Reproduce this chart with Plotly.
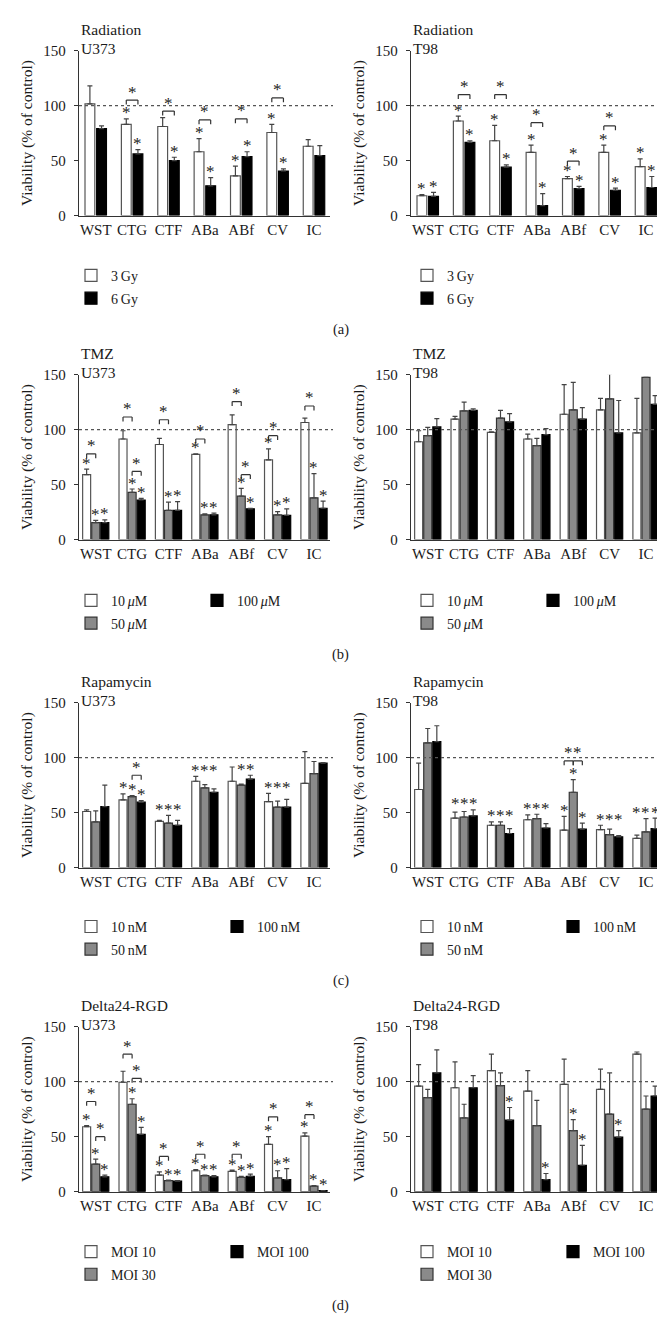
import plotly.graph_objects as go

categories = ["WST", "CTG", "CTF", "ABa", "ABf", "CV", "IC"]
y_ticks = [0, 50, 100, 150]

# ---------------- (a) Radiation ----------------
rad_names = ["3\u2009Gy", "6\u2009Gy"]
rad_u373_3gy = [101.5, 83, 81, 58, 36, 75.5, 63]
rad_u373_3gy_err = [16.5, 5, 8, 12, 9, 7.5, 6]
rad_u373_6gy = [79, 56, 50, 27, 53.5, 40.5, 54.5]
rad_u373_6gy_err = [2.5, 4, 3, 7.5, 4.5, 2, 9]
rad_u373_3gy_sig = [0, 1, 0, 1, 1, 1, 0]
rad_u373_6gy_sig = [0, 1, 1, 1, 1, 1, 0]
rad_u373_brackets = [(1, 0, 1, 105), (2, 0, 1, 95), (3, 0, 1, 87), (4, 0, 1, 88), (5, 0, 1, 107)]

rad_t98_3gy = [18, 86, 68, 57.5, 33.5, 57.5, 44.5]
rad_t98_3gy_err = [1, 4.5, 14, 6.5, 2, 6.5, 7]
rad_t98_6gy = [17.5, 66.5, 44, 9, 24.5, 23, 25.5]
rad_t98_6gy_err = [3.5, 1.5, 2, 11, 2, 2, 10]
rad_t98_3gy_sig = [1, 1, 1, 1, 1, 1, 1]
rad_t98_6gy_sig = [1, 1, 1, 1, 1, 1, 1]
rad_t98_brackets = [(1, 0, 1, 110), (2, 0, 1, 110), (3, 0, 1, 84.5), (4, 0, 1, 49.5), (5, 0, 1, 81.5)]

# ---------------- (b) TMZ ----------------
tmz_names = ["10\u2009<i>\u03bc</i>M", "50\u2009<i>\u03bc</i>M", "100\u2009<i>\u03bc</i>M"]
tmz_u373_10 = [59, 91.5, 86.5, 77.5, 104.5, 72.5, 106.5]
tmz_u373_10_err = [5, 7.5, 5.5, 0.5, 9, 10, 4]
tmz_u373_50 = [15.5, 43, 26.5, 22.5, 39.5, 22.5, 38]
tmz_u373_50_err = [2, 3, 7.5, 1, 7, 3, 22]
tmz_u373_100 = [15.5, 36, 26.5, 22.5, 28, 22, 28.5]
tmz_u373_100_err = [2.5, 1.5, 8, 1.5, 0.5, 6, 6.5]
tmz_u373_10_sig = [1, 0, 0, 1, 0, 1, 0]
tmz_u373_50_sig = [1, 1, 1, 1, 1, 1, 1]
tmz_u373_100_sig = [1, 1, 1, 1, 1, 1, 1]
tmz_u373_brackets = [(0, 0, 1, 78), (1, 0, 1, 111.5), (1, 1, 2, 62), (2, 0, 1, 109), (3, 0, 1, 91.5),
                     (4, 0, 1, 125.5), (4, 1, 2, 59), (5, 0, 1, 94.5), (6, 0, 1, 121.5)]

tmz_t98_10 = [89, 109.5, 97.5, 91.5, 114, 118, 97]
tmz_t98_10_err = [10, 2.5, 0.5, 4.5, 27, 10.5, 31.5]
tmz_t98_50 = [94.5, 117, 110.5, 85.5, 118, 128, 147.5]
tmz_t98_50_err = [7.5, 8, 7, 6.5, 25, 23, 0]
tmz_t98_100 = [102.5, 117.5, 107, 95.5, 109.5, 97, 123]
tmz_t98_100_err = [7.5, 1.5, 7.5, 5.5, 10.5, 29.5, 8]
no_sig = [0, 0, 0, 0, 0, 0, 0]

# ---------------- (c) Rapamycin ----------------
rapa_names = ["10\u2009nM", "50\u2009nM", "100\u2009nM"]
rapa_u373_10 = [51, 61.5, 42, 78.5, 78.5, 60, 76.5]
rapa_u373_10_err = [1.5, 5.5, 1, 4.5, 13, 7.5, 29]
rapa_u373_50 = [41.5, 64.5, 40.5, 72.5, 75, 55, 85.5]
rapa_u373_50_err = [10, 1, 7, 3, 1, 5.5, 11]
rapa_u373_100 = [55.5, 59.5, 38.5, 68.5, 80.5, 55, 95]
rapa_u373_100_err = [19.5, 1.5, 4.5, 3, 3.5, 7, 0.5]
rapa_u373_10_sig = [0, 1, 1, 1, 0, 1, 0]
rapa_u373_50_sig = [0, 1, 1, 1, 1, 1, 0]
rapa_u373_100_sig = [0, 1, 1, 1, 1, 1, 0]
rapa_u373_brackets = [(1, 1, 2, 84)]

rapa_t98_10 = [71, 45, 38.5, 43.5, 34, 34.5, 26.5]
rapa_t98_10_err = [24, 5.5, 3, 4.5, 12.5, 4, 3]
rapa_t98_50 = [113.5, 46, 38.5, 44.5, 68.5, 30, 32.5]
rapa_t98_50_err = [13, 5, 3, 4, 11.5, 5, 12]
rapa_t98_100 = [114.5, 47, 31, 36, 35, 28, 35.5]
rapa_t98_100_err = [14.5, 5.5, 4.5, 4, 5.5, 1, 9.5]
rapa_t98_sig = [0, 1, 1, 1, 1, 1, 1]
rapa_t98_brackets = [(4, 0, 1, 97), (4, 1, 2, 97)]

# ---------------- (d) Delta24-RGD ----------------
delta_names = ["MOI 10", "MOI 30", "MOI 100"]
delta_u373_10 = [59, 99.5, 15, 19, 18.5, 43, 50.5]
delta_u373_10_err = [1, 10, 3, 1, 1, 7, 3]
delta_u373_30 = [25, 79.5, 10, 14.5, 13, 12.5, 5]
delta_u373_30_err = [4.5, 5, 0.5, 0.5, 1, 6.5, 0.5]
delta_u373_100 = [13.5, 52, 9.5, 13.5, 14, 11, 1]
delta_u373_100_err = [1.5, 6.5, 0.5, 1, 2, 10, 0]
delta_u373_10_sig = [1, 0, 1, 1, 1, 1, 1]
delta_u373_30_sig = [1, 1, 1, 1, 1, 1, 1]
delta_u373_100_sig = [1, 1, 1, 1, 1, 1, 1]
delta_u373_brackets = [(0, 0, 1, 82), (0, 1, 2, 50), (1, 0, 1, 125), (1, 1, 2, 103), (2, 0, 1, 32),
                       (3, 0, 1, 34), (4, 0, 1, 34), (5, 0, 1, 68), (6, 0, 1, 70)]

delta_t98_10 = [96, 94.5, 110, 91.5, 97.5, 93, 125]
delta_t98_10_err = [19.5, 23.5, 15, 18.5, 23, 18.5, 2]
delta_t98_30 = [85.5, 67, 96.5, 60, 55.5, 70.5, 75]
delta_t98_30_err = [7.5, 12.5, 11.5, 23, 10, 37.5, 12]
delta_t98_100 = [108, 94.5, 65, 11, 24, 49.5, 87]
delta_t98_100_err = [21, 11, 11.5, 5.5, 18, 6, 9]
delta_t98_30_sig = [0, 0, 0, 0, 1, 0, 0]
delta_t98_100_sig = [0, 0, 1, 1, 1, 1, 0]

panel_labels = ["(a)", "(b)", "(c)", "(d)"]

panels = [
    dict(row=0, col=0, title="Radiation", cell="U373", names=rad_names,
         values=[rad_u373_3gy, rad_u373_6gy], errors=[rad_u373_3gy_err, rad_u373_6gy_err],
         sig=[rad_u373_3gy_sig, rad_u373_6gy_sig], brackets=rad_u373_brackets, align=False),
    dict(row=0, col=1, title="Radiation", cell="T98", names=rad_names,
         values=[rad_t98_3gy, rad_t98_6gy], errors=[rad_t98_3gy_err, rad_t98_6gy_err],
         sig=[rad_t98_3gy_sig, rad_t98_6gy_sig], brackets=rad_t98_brackets, align=False),
    dict(row=1, col=0, title="TMZ", cell="U373", names=tmz_names,
         values=[tmz_u373_10, tmz_u373_50, tmz_u373_100],
         errors=[tmz_u373_10_err, tmz_u373_50_err, tmz_u373_100_err],
         sig=[tmz_u373_10_sig, tmz_u373_50_sig, tmz_u373_100_sig], brackets=tmz_u373_brackets, align=False),
    dict(row=1, col=1, title="TMZ", cell="T98", names=tmz_names,
         values=[tmz_t98_10, tmz_t98_50, tmz_t98_100],
         errors=[tmz_t98_10_err, tmz_t98_50_err, tmz_t98_100_err],
         sig=[no_sig, no_sig, no_sig], brackets=[], align=False),
    dict(row=2, col=0, title="Rapamycin", cell="U373", names=rapa_names,
         values=[rapa_u373_10, rapa_u373_50, rapa_u373_100],
         errors=[rapa_u373_10_err, rapa_u373_50_err, rapa_u373_100_err],
         sig=[rapa_u373_10_sig, rapa_u373_50_sig, rapa_u373_100_sig], brackets=rapa_u373_brackets, align=True),
    dict(row=2, col=1, title="Rapamycin", cell="T98", names=rapa_names,
         values=[rapa_t98_10, rapa_t98_50, rapa_t98_100],
         errors=[rapa_t98_10_err, rapa_t98_50_err, rapa_t98_100_err],
         sig=[rapa_t98_sig, rapa_t98_sig, rapa_t98_sig], brackets=rapa_t98_brackets, align=True),
    dict(row=3, col=0, title="Delta24-RGD", cell="U373", names=delta_names,
         values=[delta_u373_10, delta_u373_30, delta_u373_100],
         errors=[delta_u373_10_err, delta_u373_30_err, delta_u373_100_err],
         sig=[delta_u373_10_sig, delta_u373_30_sig, delta_u373_100_sig], brackets=delta_u373_brackets, align=False),
    dict(row=3, col=1, title="Delta24-RGD", cell="T98", names=delta_names,
         values=[delta_t98_10, delta_t98_30, delta_t98_100],
         errors=[delta_t98_10_err, delta_t98_30_err, delta_t98_100_err],
         sig=[no_sig, delta_t98_30_sig, delta_t98_100_sig], brackets=[], align=False),
]

# ---------------- styling / layout (pixels) ----------------
W, H = 665, 1329
FONT = "Liberation Serif"
TXT = "#1a1a1a"
AX = "#333333"
ROW_BOTTOM = [202, 530, 862, 1190]
PLOT_H = 167
COL_X = [(71, 322), (403, 654)]
LEG_ROWS = [(263, 286), (592, 615), (922, 945), (1251, 1274)]
LEG_COL2 = [0, 126, 146, 146]
LEG_X0 = [72, 408]
LABEL_Y = [317, 646, 976, 1305]
STYLE2 = [("#ffffff", "#555555"), ("#000000", "#000000")]
STYLE3 = [("#ffffff", "#555555"), ("#8a8a8a", "#333333"), ("#000000", "#000000")]
STAR_FONT = dict(size=17, family=FONT, color="#222222")

fig = go.Figure()
annotations = []
shapes = []
legend_layouts = {}
legend_count = 0


def star(x, y, xr, yr, shift):
    return dict(x=x, y=y, xref=xr, yref=yr, text="*", showarrow=False, yanchor="middle",
                yshift=shift, font=STAR_FONT)


for k, p in enumerate(panels):
    sfx = "" if k == 0 else str(k + 1)
    xr, yr = "x" + sfx, "y" + sfx
    r, c = p["row"], p["col"]
    n = len(p["values"])
    slot = 0.32 if n == 2 else 0.25
    bw = 0.27 if n == 2 else 0.22
    styles = STYLE2 if n == 2 else STYLE3
    offsets = [-(n * slot) / 2 + i * slot + (slot - bw) / 2 for i in range(n)]
    centers = [o + bw / 2 for o in offsets]

    x0, x1 = COL_X[c]
    yb = ROW_BOTTOM[r]
    yt = yb - PLOT_H
    fig.update_layout({
        "xaxis" + sfx: dict(domain=[x0 / W, x1 / W], anchor=yr, type="category",
                            categoryorder="array", categoryarray=categories,
                            range=[-0.46, 6.44], showline=True, linecolor=AX, linewidth=1.3,
                            ticks="", showgrid=False, zeroline=False, fixedrange=True,
                            tickfont=dict(size=15, family=FONT, color=TXT)),
        "yaxis" + sfx: dict(domain=[1 - yb / H, 1 - yt / H], anchor=xr, range=[0, 150],
                            tickvals=y_ticks, ticks="outside", ticklen=4, tickwidth=1.2,
                            tickcolor=AX, showline=True, linecolor=AX, linewidth=1.3,
                            showgrid=False, zeroline=False, fixedrange=True, ticklabelstandoff=5,
                            tickfont=dict(size=15, family=FONT, color=TXT),
                            title=dict(text="Viability (% of control)", standoff=6,
                                       font=dict(size=15.5, family=FONT, color=TXT))),
    })

    for i in range(n):
        legend_count += 1
        lk = "legend" if legend_count == 1 else f"legend{legend_count}"
        if n == 2:
            lx, ly = LEG_X0[c], LEG_ROWS[r][i]
        else:
            lx = LEG_X0[c] + (LEG_COL2[r] if i == 2 else 0)
            ly = LEG_ROWS[r][0 if i in (0, 2) else 1]
        legend_layouts[lk] = dict(x=(lx - 9) / W, y=1 - ly / H, xanchor="left", yanchor="middle",
                                  bgcolor="rgba(0,0,0,0)", borderwidth=0,
                                  font=dict(size=14, family=FONT, color=TXT),
                                  itemclick=False, itemdoubleclick=False)
        fill, edge = styles[i]
        fig.add_trace(go.Bar(
            x=categories, y=p["values"][i], name=p["names"][i], legend=lk, showlegend=True,
            xaxis=xr, yaxis=yr, width=bw, offset=offsets[i],
            marker=dict(color=fill, line=dict(color=edge, width=1.2)),
            error_y=dict(type="data", symmetric=False, array=p["errors"][i],
                         arrayminus=[0] * len(categories), color="#444444", thickness=1.2, width=2.5),
            hoverinfo="skip",
        ))

    # significance stars on bars
    bracket_groups = {b[0] for b in p["brackets"]}
    for g in range(len(categories)):
        tops = [p["values"][i][g] + p["errors"][i][g] for i in range(n)]
        starred = [i for i in range(n) if p["sig"][i][g]]
        if not starred:
            continue
        gmax = max(tops[i] for i in starred)
        for i in starred:
            ty = gmax if (p["align"] and g not in bracket_groups) else tops[i]
            annotations.append(star(g + centers[i], ty, xr, yr, 6))
    # brackets
    for g, a, b, lvl in p["brackets"]:
        xa, xb = g + centers[a], g + centers[b]
        tick = 4
        for (sx0, sy0, sx1, sy1) in [(xa, lvl - tick, xa, lvl), (xa, lvl, xb, lvl), (xb, lvl, xb, lvl - tick)]:
            shapes.append(dict(type="line", xref=xr, yref=yr, x0=sx0, y0=sy0, x1=sx1, y1=sy1,
                               line=dict(color=AX, width=1.2)))
        annotations.append(star((xa + xb) / 2, lvl, xr, yr, 8))

    # 100% reference line
    shapes.append(dict(type="line", xref=xr + " domain", yref=yr, x0=0, x1=1.012, y0=100, y1=100,
                       line=dict(color="#555555", width=1.2, dash="dot")))
    # panel titles
    annotations.append(dict(x=0, y=1, xref=xr + " domain", yref=yr + " domain", text=p["cell"],
                            showarrow=False, xanchor="left", yanchor="middle", xshift=0, yshift=2,
                            font=dict(size=15.5, family=FONT, color=TXT)))
    annotations.append(dict(x=0, y=1, xref=xr + " domain", yref=yr + " domain", text=p["title"],
                            showarrow=False, xanchor="left", yanchor="middle", xshift=0, yshift=21,
                            font=dict(size=15.5, family=FONT, color=TXT)))

for r, lab in enumerate(panel_labels):
    annotations.append(dict(x=0.5, y=1 - LABEL_Y[r] / H, xref="paper", yref="paper", text=lab,
                            showarrow=False, xanchor="center", yanchor="middle",
                            font=dict(size=14.5, family=FONT, color=TXT)))

fig.update_layout(legend_layouts)
fig.update_layout(
    width=W, height=H, margin=dict(l=0, r=0, t=0, b=0),
    paper_bgcolor="white", plot_bgcolor="white",
    barmode="group", font=dict(family=FONT, color=TXT),
    annotations=annotations, shapes=shapes,
)
fig.write_html("out.html")
